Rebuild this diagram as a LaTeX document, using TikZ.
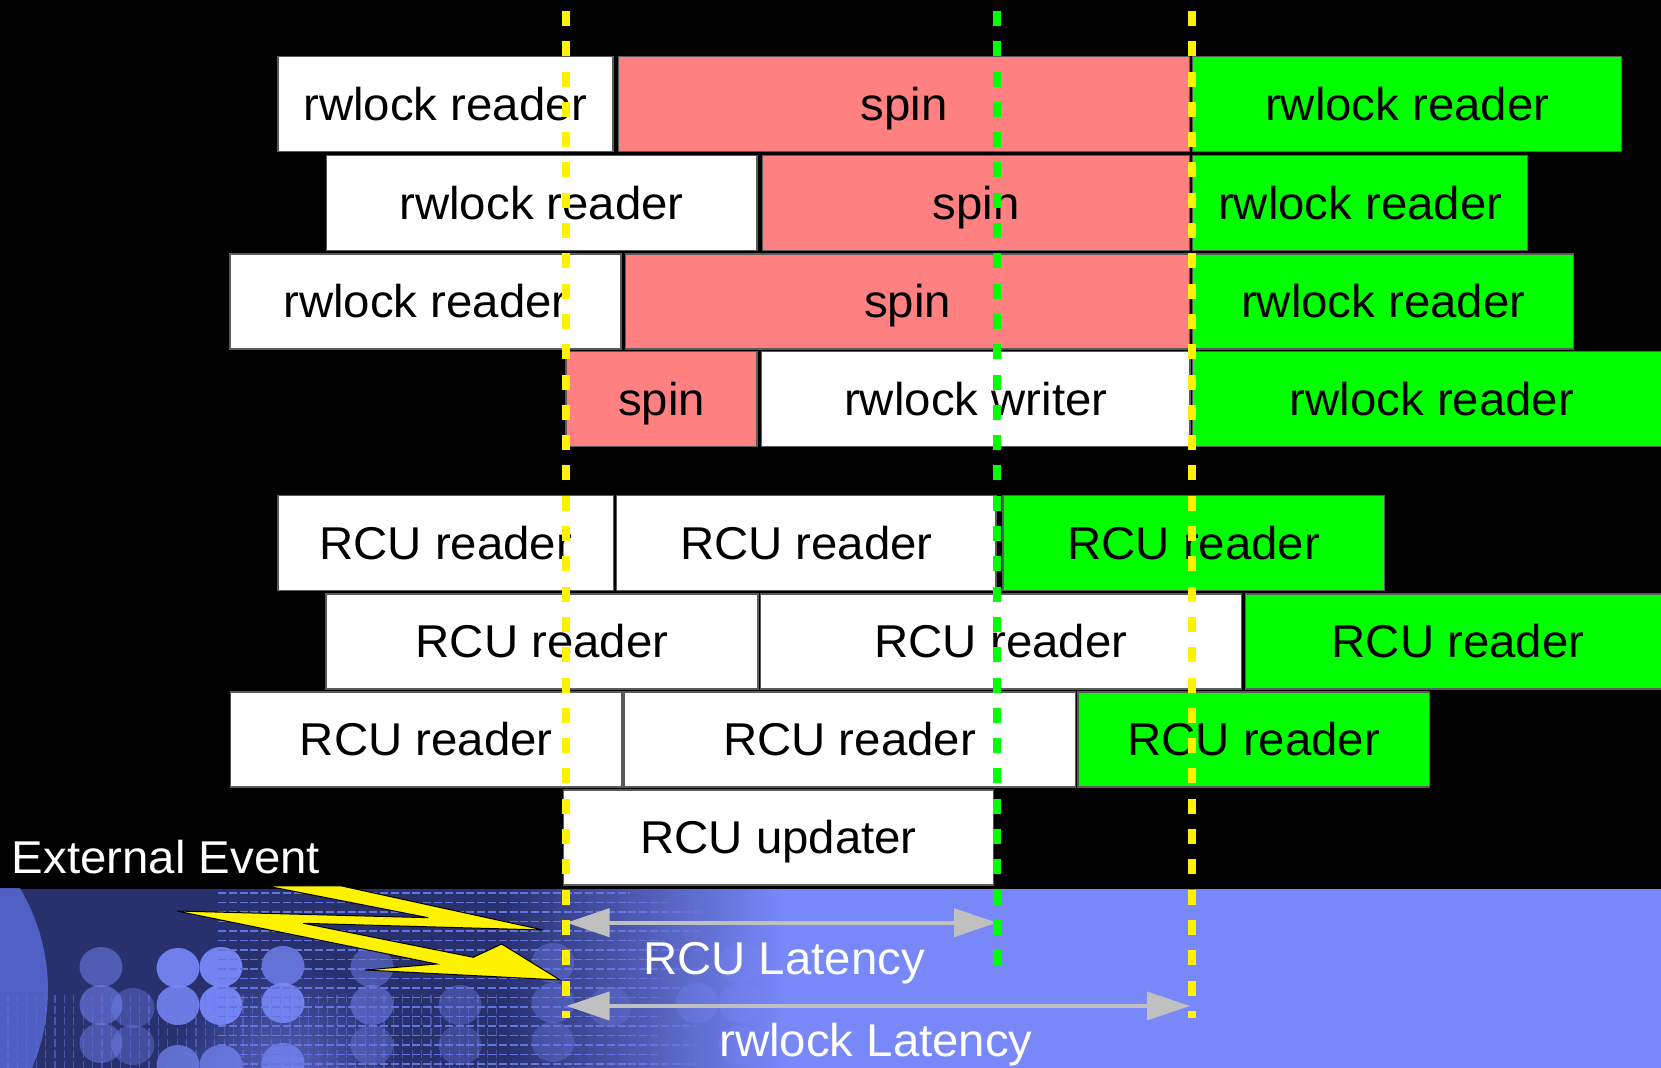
\documentclass[tikz,border=0pt]{standalone}
\usepackage{fontspec}
\setmainfont{Liberation Sans}[FakeStretch=1.03]
\usetikzlibrary{arrows.meta,fadings}

\definecolor{spinred}{RGB}{255,128,128}
\definecolor{readgreen}{RGB}{0,255,0}
\definecolor{bandlight}{RGB}{120,136,248}
\definecolor{banddark}{RGB}{40,48,110}
\definecolor{bandmid}{RGB}{88,104,212}
\definecolor{gridline}{RGB}{100,116,222}
\definecolor{arrowgray}{RGB}{192,192,192}
\definecolor{boxedge}{RGB}{90,90,90}

\tikzfading[name=fadeeast, left color=transparent!0, right color=transparent!100]
\tikzfading[name=glowfade, inner color=transparent!40, outer color=transparent!100]

\newcommand\lanefont{\fontsize{23pt}{27pt}\selectfont}

\tikzset{
  lane/.style={draw=boxedge, line width=0.6pt, inner sep=0pt, minimum height=47.5pt,
    text height=16.4pt, text depth=0.5pt, font=\lanefont, text=black},
  white lane/.style={lane, fill=white},
  spin lane/.style={lane, fill=spinred},
  green lane/.style={lane, fill=readgreen},
  latlabel/.style={font=\lanefont, text=white, inner sep=0pt},
  timeline/.style={line width=3.7pt, dash pattern=on 7.5pt off 7.65pt},
  latency/.style={arrowgray, line width=2pt,
    arrows={Triangle[length=21.5pt,width=14pt]-Triangle[length=21.5pt,width=14pt]}},
  bolt/.style={fill=yellow, draw=black, line width=0.5pt, line join=miter},
}

% box spanning x = #2..#3 (px), top edge at #4, style #5, text #6
\newcommand\lanebox[6]{%
  \node[#5, minimum width={(#3-#2)*0.5pt}] (#1) at ({(#2+#3)/2},{#4+47.5}) {#6};}

\begin{document}
\begin{tikzpicture}[x=0.5pt,y=-0.5pt]
\useasboundingbox (0,0) rectangle (1661,1068);
\fill[black] (0,0) rectangle (1661,1068);
\begin{scope}
\clip (0,0) rectangle (1661,1068);

% ---- decorative band along the bottom ----
\begin{scope}
\clip (0,889) rectangle (1661,1068);
\fill[bandlight] (0,889) rectangle (1661,1068);
\fill[banddark] (0,889) rectangle (500,1068);
\fill[banddark, path fading=fadeeast] (499,889) rectangle (780,1068);
\fill[bandmid, opacity=0.85] (-150,990) circle [radius=198];
\fill[bandlight, path fading=glowfade] (285,1080) circle [radius=120];
\foreach \cx/\cy/\op in {101/967/0.5, 101/1005/0.55, 101/1043/0.45,
    133/1008/0.35, 133/1045/0.35,
    178/968/0.9, 178/1005/0.85, 178/1065/0.7,
    221/967/0.95, 221/1005/0.95, 221/1065/0.7,
    283/966/0.75, 283/1003/0.9, 283/1063/0.75,
    372/967/0.45, 372/1005/0.5, 372/1045/0.35,
    460/1005/0.35, 460/1045/0.3,
    553/963/0.35, 553/1003/0.35, 553/1042/0.3,
    610/1007/0.25, 697/1003/0.3, 740/963/0.3, 740/1003/0.3, 740/1045/0.25}
  \fill[bandlight, opacity=\op] (\cx,\cy) ellipse [x radius=21.5, y radius=20];
\foreach \i in {0,...,18}
  \draw[gridline, line width=0.65pt, dash pattern=on 4pt off 1.4pt]
    (218,{893+9.5*\i}) -- ({630+mod(\i*37,75)},{893+9.5*\i});
\foreach \i in {0,...,52}
  \draw[gridline, opacity=0.55, line width=0.6pt, dash pattern=on 4pt off 1.5pt]
    ({8+9.4*\i},995) -- ({8+9.4*\i},1068);
\end{scope}

% ---- rwlock lanes ----
\lanebox{rwa1}{278}{613}{56.7}{white lane}{rwlock reader}
\lanebox{rwa2}{618.3}{1189.8}{56.7}{spin lane}{spin}
\lanebox{rwa3}{1192.7}{1621.8}{56.7}{green lane}{rwlock reader}

\lanebox{rwb1}{326.3}{757}{155.7}{white lane}{rwlock reader}
\lanebox{rwb2}{762.5}{1189.8}{155.7}{spin lane}{spin}
\lanebox{rwb3}{1192.7}{1527.7}{155.7}{green lane}{rwlock reader}

\lanebox{rwc1}{229.9}{621}{254}{white lane}{rwlock reader}
\lanebox{rwc2}{625.4}{1189.8}{254}{spin lane}{spin}
\lanebox{rwc3}{1192.7}{1573.8}{254}{green lane}{rwlock reader}

\lanebox{rwd1}{566}{757}{351.7}{spin lane}{spin}
\lanebox{rwd2}{761.6}{1190}{351.7}{white lane}{rwlock writer}
\lanebox{rwd3}{1192.7}{1671}{351.7}{green lane}{rwlock reader}

% ---- RCU lanes ----
\lanebox{rca1}{278}{613.3}{495.7}{white lane}{RCU reader}
\lanebox{rca2}{616.8}{996}{495.7}{white lane}{RCU reader}
\lanebox{rca3}{1003}{1384.5}{495.7}{green lane}{RCU reader}

\lanebox{rcb1}{326}{758}{594}{white lane}{RCU reader}
\lanebox{rcb2}{760.2}{1241.6}{594}{white lane}{RCU reader}
\lanebox{rcb3}{1245.2}{1671}{594}{green lane}{RCU reader}

\lanebox{rcc1}{230.6}{622}{692}{white lane}{RCU reader}
\lanebox{rcc2}{624}{1075.2}{692}{white lane}{RCU reader}
\lanebox{rcc3}{1077.9}{1429.4}{692}{green lane}{RCU reader}

\lanebox{rcu}{563.8}{993.4}{790}{white lane}{RCU updater}

% ---- external event ----
\node[latlabel, anchor=base west] (evt) at (11.5,874) {External Event};
\draw[bolt] (266.7,886) -- (341.7,886) -- (543.3,930) -- (303.3,923.3)
  -- (473.3,957.3) -- (501.7,944) -- (560,980) -- (365,970) -- (436.7,964)
  -- (176.7,911) -- (428.3,917.7) -- cycle;

% ---- latency arrows ----
\coordinate (rcuFrom) at (566.5,922.7);
\coordinate (rcuTo) at (997,922.7);
\coordinate (rwFrom) at (566.5,1006);
\coordinate (rwTo) at (1190,1006);
\draw[latency] (rcuFrom) -- (rcuTo);
\draw[latency] (rwFrom) -- (rwTo);
\node[latlabel, anchor=base] (rcuLat) at (784,975) {RCU Latency};
\node[latlabel, anchor=base] (rwLat) at (876,1057) {rwlock Latency};

% ---- time markers ----
\coordinate (evtTop) at (566,11);
\coordinate (evtBot) at (566,1018);
\coordinate (rcuTop) at (997,11);
\coordinate (rcuBot) at (997,966);
\coordinate (rwTop) at (1192,11);
\coordinate (rwBot) at (1192,1018);
\draw[timeline, yellow] (evtTop) -- (evtBot);
\draw[timeline, readgreen] (rcuTop) -- (rcuBot);
\draw[timeline, yellow] (rwTop) -- (rwBot);
\end{scope}
\end{tikzpicture}
\end{document}
